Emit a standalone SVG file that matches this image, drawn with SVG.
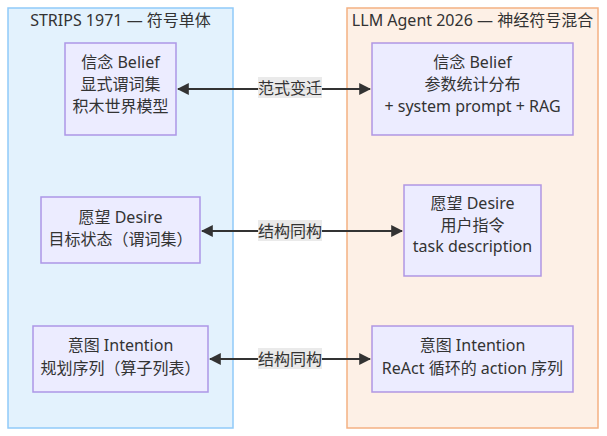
<svg xmlns="http://www.w3.org/2000/svg" width="607" height="436" viewBox="0 0 607 436">
<defs>
<style>
text{font-family:"Noto Sans","Noto Sans CJK SC",sans-serif;font-size:16px;fill:#333;text-anchor:middle;dominant-baseline:central}
.node rect{fill:#ececff;stroke:#9370db;stroke-width:1.5;stroke-opacity:0.7}
.edge{stroke:#333;stroke-width:2;fill:none}
.lbg{fill:#e8e8e8;opacity:0.9}
</style>
<marker id="ah" viewBox="0 0 10 10" refX="9" refY="5" markerWidth="6" markerHeight="6" orient="auto-start-reverse" markerUnits="strokeWidth">
<path d="M0,0 L10,5 L0,10 z" fill="#333"/>
</marker>
</defs>
<g id="cluster-strips">
<rect x="8" y="8" width="225" height="420" fill="#e3f2fd" stroke="#90caf9" stroke-width="1.5"/>
<text x="120.5" y="20">STRIPS 1971 — 符号单体</text>
</g>
<g id="cluster-llm">
<rect x="347" y="8" width="251" height="420" fill="#fdf0e6" stroke="#f4b183" stroke-width="1.5"/>
<text x="472.5" y="20">LLM Agent 2026 — 神经符号混合</text>
</g>
<g id="connectors">
<path class="edge" d="M178,89 H370" marker-start="url(#ah)" marker-end="url(#ah)"/>
<path class="edge" d="M202,231 H402" marker-start="url(#ah)" marker-end="url(#ah)"/>
<path class="edge" d="M210,359 H370" marker-start="url(#ah)" marker-end="url(#ah)"/>
<rect class="lbg" x="258" y="77" width="64" height="21"/>
<text x="290" y="87.5">范式变迁</text>
<rect class="lbg" x="258" y="220" width="64" height="21"/>
<text x="290" y="230.5">结构同构</text>
<rect class="lbg" x="258" y="348" width="64" height="21"/>
<text x="290" y="358.5">结构同构</text>
</g>
<g id="s-belief" class="node">
<rect x="65" y="43" width="111" height="92"/>
<text x="120.5" y="62">信念 Belief</text>
<text x="120.5" y="84">显式谓词集</text>
<text x="120.5" y="106">积木世界模型</text>
</g>
<g id="s-desire" class="node">
<rect x="41" y="197" width="159" height="66"/>
<text x="120.5" y="217">愿望 Desire</text>
<text x="120.5" y="239">目标状态（谓词集）</text>
</g>
<g id="s-intention" class="node">
<rect x="33" y="326" width="175" height="66"/>
<text x="120.5" y="345">意图 Intention</text>
<text x="120.5" y="368">规划序列（算子列表）</text>
</g>
<g id="l-belief" class="node">
<rect x="372" y="43" width="201" height="92"/>
<text x="472.5" y="62">信念 Belief</text>
<text x="472.5" y="84">参数统计分布</text>
<text x="472.5" y="106">+ system prompt + RAG</text>
</g>
<g id="l-desire" class="node">
<rect x="404" y="185" width="137" height="91"/>
<text x="472.5" y="203">愿望 Desire</text>
<text x="472.5" y="225">用户指令</text>
<text x="472.5" y="246">task description</text>
</g>
<g id="l-intention" class="node">
<rect x="372" y="326" width="201" height="66"/>
<text x="472.5" y="345">意图 Intention</text>
<text x="472.5" y="368">ReAct 循环的 action 序列</text>
</g>
</svg>
